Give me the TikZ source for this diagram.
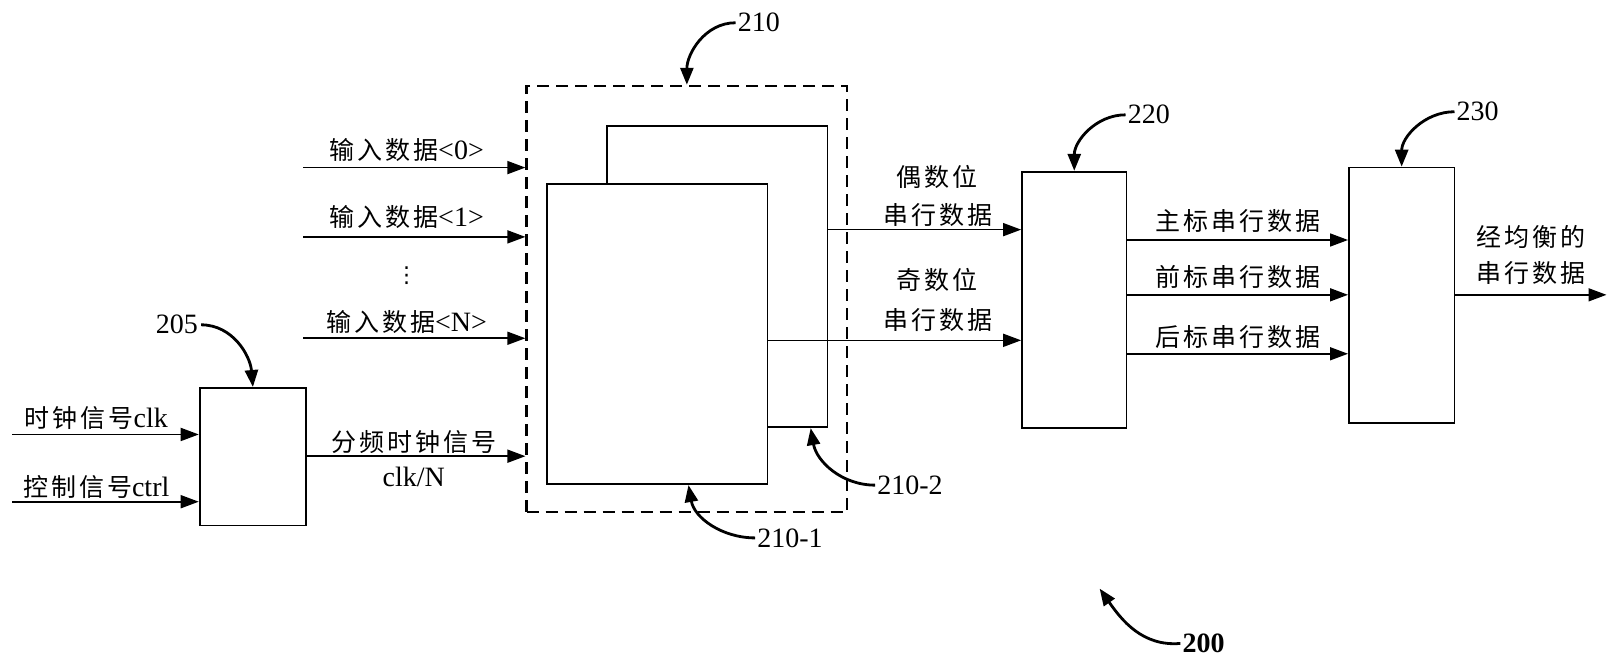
\documentclass[tikz,border=0pt]{standalone}
\usepackage{fontspec}
\setmainfont{Liberation Serif}
\newfontfamily\cjk[LetterSpace=12]{Noto Sans CJK SC}
\newfontfamily\dejavu{DejaVu Sans}
\newcommand\zh[1]{{\fontsize{25}{30}\selectfont\cjk #1}}
\usetikzlibrary{arrows.meta,fit,calc}
\begin{document}
\begin{tikzpicture}[x=1.0344pt,y=-1.0344pt,
  box/.style={draw,line width=1.8pt,inner sep=0pt},
  dbox/.style={draw,line width=2.2pt,dash pattern=on 12pt off 7pt,inner sep=0pt},
  sig/.style={line width=1.6pt,-{Triangle[length=18pt,width=13pt]}},
  lead/.style={line width=2.8pt,-{Triangle[length=17pt,width=13pt]}},
  lbl/.style={inner sep=0pt,font=\fontsize{28}{30}\selectfont},
  num/.style={inner sep=0pt,font=\fontsize{28}{30}\selectfont},
]
\useasboundingbox[fill=white] (0,0) rectangle (1568,644);

% blocks
\node[box,fit={(193,375) (296,508)}] (b205) {};
\node[dbox,fit={(509,83) (819,495)}] (d210) {};
\node[box,fit={(587,122) (800,413)}] (back) {};
\node[box,fill=white,fit={(529,178) (742,468)}] (front) {};
\node[box,fit={(988,166) (1089,414)}] (b220) {};
\node[box,fit={(1304,162) (1406,409)}] (b230) {};

% inputs to 210
\coordinate (i0) at (293,162);
\coordinate (i1) at (293,229);
\coordinate (iN) at (293,327);
\draw[sig] (i0) -- (i0 -| d210.west);
\draw[sig] (i1) -- (i1 -| d210.west);
\draw[sig] (iN) -- (iN -| d210.west);
\node[lbl] (t0) at (393,145) {\zh{输入数据}<0>};
\node[lbl] (t1) at (393,210) {\zh{输入数据}<1>};
\node[inner sep=0pt,font=\fontsize{22}{24}\selectfont\dejavu] (tdots) at (393,266) {⋮};
\node[lbl] (tN) at (393,311) {\zh{输入数据}<N>};

% inputs to 205
\coordinate (c1) at (12,420);
\coordinate (c2) at (12,485);
\draw[sig] (c1) -- (c1 -| b205.west);
\draw[sig] (c2) -- (c2 -| b205.west);
\node[lbl] (tclk) at (93,404) {\zh{时钟信号}clk};
\node[lbl] (tctrl) at (93,471) {\zh{控制信号}ctrl};

% 205 -> 210
\draw[sig] (b205.east |- 0,441) -- (d210.west |- 0,441);
\node[lbl] (tdiv) at (400,427) {\zh{分频时钟信号}};
\node[lbl] (tdivn) at (400,461) {clk/N};

% 210 -> 220
\draw[sig] (back.east |- 0,222) -- (b220.west |- 0,222);
\draw[sig] (front.east |- 0,329) -- (b220.west |- 0,329);
\node[lbl] (te1) at (906,171) {\zh{偶数位}};
\node[lbl] (te2) at (907,208) {\zh{串行数据}};
\node[lbl] (to1) at (906,271) {\zh{奇数位}};
\node[lbl] (to2) at (907,309) {\zh{串行数据}};

% 220 -> 230
\draw[sig] (b220.east |- 0,232) -- (b230.west |- 0,232);
\draw[sig] (b220.east |- 0,285) -- (b230.west |- 0,285);
\draw[sig] (b220.east |- 0,342) -- (b230.west |- 0,342);
\node[lbl] (tm) at (1197,214) {\zh{主标串行数据}};
\node[lbl] (tp) at (1197,268) {\zh{前标串行数据}};
\node[lbl] (tq) at (1197,326) {\zh{后标串行数据}};

% output
\coordinate (out) at (1553,285);
\draw[sig] (b230.east |- out) -- (out);
\node[lbl] (tout1) at (1480,229) {\zh{经均衡的}};
\node[lbl] (tout2) at (1480,264) {\zh{串行数据}};

% reference numerals and leaders
\node[num] (l205) at (171,314) {205};
\draw[lead] ([xshift=3pt]l205.east) to[out=0,in=95] (b205.north);
\node[num,anchor=west] (l210) at (713,22) {210};
\draw[lead] ([xshift=-2pt]l210.west) to[out=180,in=90] (d210.north);
\node[num,anchor=west] (l220) at (1090,111) {220};
\draw[lead] ([xshift=-2pt]l220.west) to[out=180,in=90] (b220.north);
\node[num,anchor=west] (l230) at (1408,108) {230};
\draw[lead] ([xshift=-2pt]l230.west) to[out=180,in=90] (b230.north);
\node[num,anchor=west] (l2101) at (732,520) {210-1};
\draw[lead] ([xshift=-2pt]l2101.west) to[out=180,in=-80] ($(front.south west)!0.64!(front.south east)$);
\node[num,anchor=west] (l2102) at (848,469) {210-2};
\draw[lead] ([xshift=-2pt]l2102.west) to[out=180,in=-80] ($(back.south west)!0.92!(back.south east)$);
\node[num,anchor=west,font=\fontsize{28}{30}\selectfont\bfseries] (l200) at (1143,622) {200};
\coordinate (p200) at (1063,569);
\draw[lead] ([xshift=-2pt]l200.west) to[out=185,in=-55] (p200);
\end{tikzpicture}
\end{document}
